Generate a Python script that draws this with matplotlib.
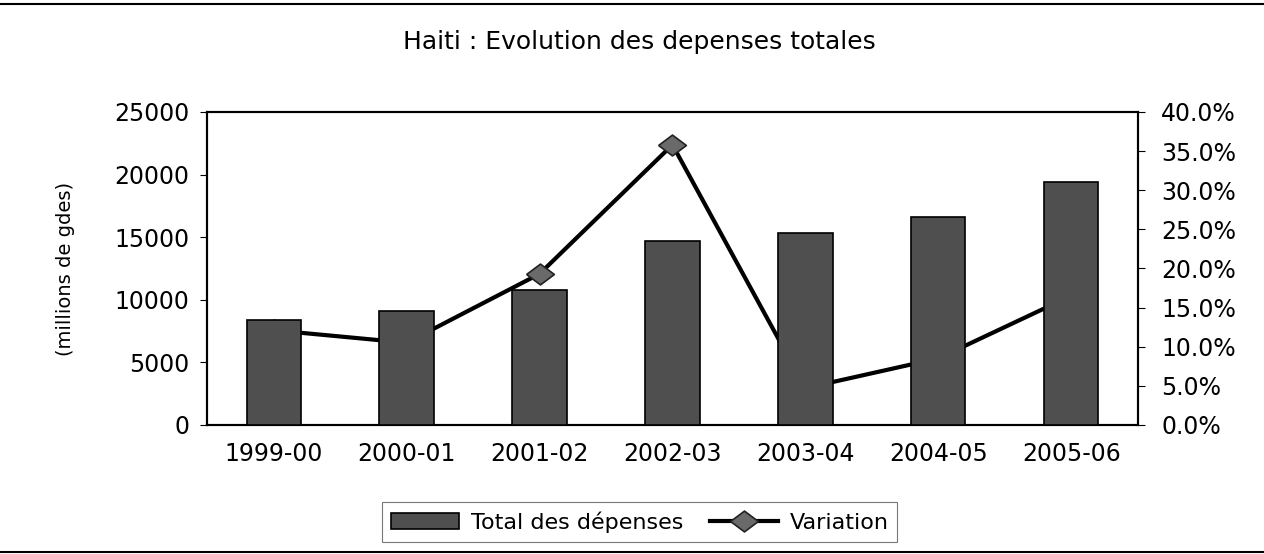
import matplotlib
matplotlib.use("Agg")
import matplotlib.pyplot as plt
from matplotlib.lines import Line2D
from matplotlib.ticker import FuncFormatter

plt.rcParams['font.family'] = ['DejaVu Sans']

annees = ["1999-00", "2000-01", "2001-02", "2002-03", "2003-04", "2004-05", "2005-06"]
depenses = [8400, 9100, 10800, 14700, 15300, 16600, 19400]
variation = [12.1, 10.5, 19.3, 35.8, 4.7, 8.5, 16.5]

# flattened diamond like the Excel marker
losange = [(-1, 0), (0, 0.75), (1, 0), (0, -0.75), (-1, 0)]

fig = plt.figure(figsize=(12.64, 5.54), dpi=100)
ax = fig.add_axes([0.164, 0.233, 0.736, 0.565])
ax2 = ax.twinx()

x = range(len(annees))
ax.bar(x, depenses, width=0.41, color='#4f4f4f', edgecolor='black', linewidth=1.2,
       label='Total des dépenses', zorder=3)
ax2.plot(x, variation, color='black', linewidth=3, marker=losange, markersize=20,
         markerfacecolor='#6a6a6a', markeredgecolor='#222222', markeredgewidth=1.2,
         label='Variation')

# bars on top of the line, as in the scan
ax.set_zorder(ax2.get_zorder() + 1)
ax.patch.set_visible(False)

ax.set_xlim(-0.5, len(annees) - 0.5)
ax.set_ylim(0, 25000)
ax.set_yticks(range(0, 25001, 5000))
ax2.set_ylim(0, 40)
ax2.set_yticks(range(0, 41, 5))
ax2.yaxis.set_major_formatter(FuncFormatter(lambda v, p: f"{v:.1f}%"))

ax.set_xticks(list(x))
ax.set_xticklabels(annees)
ax.tick_params(axis='x', length=0, labelsize=17, pad=12)
ax.tick_params(axis='y', length=5, labelsize=17, pad=8)
ax2.tick_params(axis='y', length=5, labelsize=17, pad=12)
for a in (ax, ax2):
    for s in a.spines.values():
        s.set_linewidth(1.5)

fig.text(0.052, 0.515, "(millions de gdes)", rotation=90, ha='center', va='center',
         fontsize=14)

fig.text(0.506, 0.924, "Haiti : Evolution des depenses totales", ha='center', va='center',
         fontsize=18)

h1, l1 = ax.get_legend_handles_labels()
h2, l2 = ax2.get_legend_handles_labels()
leg = fig.legend(h1 + h2, l1 + l2, loc='center', bbox_to_anchor=(0.506, 0.058), ncol=2,
                 fontsize=16, frameon=True, fancybox=False, edgecolor='#555555',
                 handlelength=3.1, columnspacing=1.2, handletextpad=0.5, borderpad=0.4)
leg.get_frame().set_linewidth(0.8)

fig.add_artist(Line2D([0, 1], [0.992, 0.992], color='black', linewidth=1.5))
fig.add_artist(Line2D([0, 1], [0.004, 0.004], color='black', linewidth=1.5))

fig.savefig("out.png", dpi=100)
